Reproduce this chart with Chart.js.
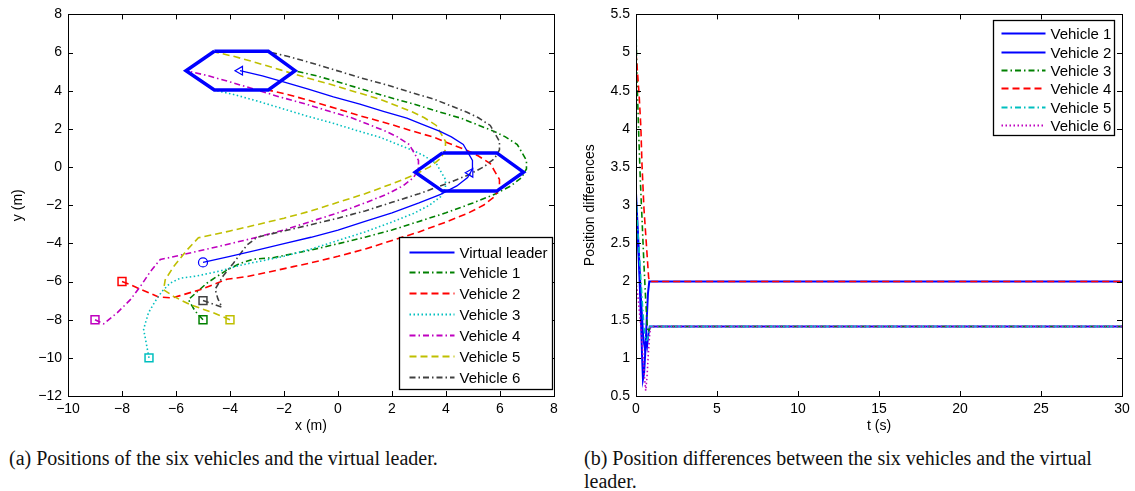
<!DOCTYPE html>
<html>
<head>
<meta charset="utf-8">
<script src="https://cdn.jsdelivr.net/npm/chart.js@4.4.0/dist/chart.umd.min.js"></script>
<style>
  body { margin: 0; background: #fff; width: 1135px; height: 491px; overflow: hidden; position: relative; }
  #wa { position: absolute; left: 0; top: 0; width: 570px; height: 440px; }
  #wb { position: absolute; left: 570px; top: 0; width: 565px; height: 440px; }
  .cap { position: absolute; font-family: "Liberation Serif", "DejaVu Serif", serif; font-size: 20px; line-height: 23px; color: #111; white-space: nowrap; }
</style>
</head>
<body>
<div id="wa"><canvas id="chartA"></canvas></div>
<div id="wb"><canvas id="chartB"></canvas></div>
<div class="cap" style="left:9px; top:447px">(a) Positions of the six vehicles and the virtual leader.</div>
<div class="cap" style="left:584px; top:447px">(b) Position differences between the six vehicles and the virtual<br>leader.</div>
<script>
// ---- (a) positions, metres ----
const xTicksA = [-10, -8, -6, -4, -2, 0, 2, 4, 6, 8];
const yTicksA = [-12, -10, -8, -6, -4, -2, 0, 2, 4, 6, 8];

const leaderX = [-5, -4, -3, -2, -1, 0, 1, 2, 3, 3.8, 4.4, 4.8, 4.98, 4.98, 4.64, 4.2, 3.78, 3.1, 2.55, 1.68, 0.81, -0.17, -1.1, -2.02, -2.8, -3.63];
const leaderY = [-5, -4.68, -4.35, -4.02, -3.68, -3.3, -2.85, -2.4, -1.88, -1.43, -0.99, -0.55, -0.1, 0.35, 1.18, 1.58, 1.87, 2.25, 2.56, 2.92, 3.3, 3.68, 4.08, 4.47, 4.78, 5.05];
const leaderMarkX = [-5, 4.9, -3.63];
const leaderMarkY = [-5, -0.3, 5.05];

const v1X = [-5, -5.29, -5.54, -4.86, -4.49, -4.12, -3.63, -3.14, -2.4, -1, 0, 1, 2, 3, 4, 5, 5.8, 6.4, 6.8, 6.98, 6.98, 6.64, 6.2, 5.78, 5.1, 4.55, 3.68, 2.81, 1.83, 0.9, -0.02, -0.8, -1.63];
const v1Y = [-8, -7.55, -6.95, -6.09, -5.74, -5.4, -5.05, -4.83, -4.75, -4.35, -4.02, -3.68, -3.3, -2.85, -2.4, -1.88, -1.43, -0.99, -0.55, -0.1, 0.35, 1.18, 1.58, 1.87, 2.25, 2.56, 2.92, 3.3, 3.68, 4.08, 4.47, 4.78, 5.05];
const v2X = [-8, -7.69, -7.32, -6.65, -6.15, -5.85, -5.11, -4.49, -4.12, -3.38, -2.65, -1.66, -1, 0, 1, 2, 3, 4, 4.8, 5.4, 5.8, 5.98, 5.98, 5.64, 5.2, 4.78, 4.1, 3.55, 2.68, 1.81, 0.83, -0.1, -1.02, -1.8, -2.63];
const v2Y = [-6, -6.17, -6.4, -6.81, -6.86, -6.74, -6.43, -6.09, -5.88, -5.74, -5.53, -5.22, -5.02, -4.68, -4.3, -3.85, -3.4, -2.88, -2.43, -1.99, -1.55, -1.1, -0.65, 0.18, 0.58, 0.87, 1.25, 1.56, 1.92, 2.3, 2.68, 3.08, 3.47, 3.78, 4.05];
const v3X = [-7, -7.08, -7.2, -7.02, -6.77, -6.52, -6.22, -5.85, -5.23, -4.37, -3.63, -2, -1, 0, 1, 2, 2.8, 3.4, 3.8, 3.98, 3.98, 3.64, 3.2, 2.78, 2.1, 1.55, 0.68, -0.19, -1.17, -2.1, -3.02, -3.8, -4.63];
const v3Y = [-10, -9.4, -8.5, -7.64, -7.03, -6.52, -6.09, -5.83, -5.71, -5.45, -5.15, -4.68, -4.3, -3.85, -3.4, -2.88, -2.43, -1.99, -1.55, -1.1, -0.65, 0.18, 0.58, 0.87, 1.25, 1.56, 1.92, 2.3, 2.68, 3.08, 3.47, 3.78, 4.05];
const v4X = [-9, -8.68, -8.18, -7.69, -7.32, -6.95, -6.58, -6.22, -5, -4, -3, -2, -1, 0, 1, 1.8, 2.4, 2.8, 2.98, 2.98, 2.64, 2.2, 1.78, 1.1, 0.55, -0.32, -1.19, -2.17, -3.1, -4.02, -4.8, -5.63];
const v4Y = [-8, -8.22, -7.64, -6.95, -6.26, -5.48, -4.84, -4.74, -4.35, -4.02, -3.68, -3.3, -2.85, -2.4, -1.88, -1.43, -0.99, -0.55, -0.1, 0.35, 1.18, 1.58, 1.87, 2.25, 2.56, 2.92, 3.3, 3.68, 4.08, 4.47, 4.78, 5.05];
const v5X = [-4, -4.62, -5.48, -6.09, -6.46, -6.4, -6.09, -5.6, -5.17, -4, -3, -2, -1, 0, 1, 2, 2.8, 3.4, 3.8, 3.98, 3.98, 3.64, 3.2, 2.78, 2.1, 1.55, 0.68, -0.19, -1.17, -2.1, -3.02, -3.8, -4.63];
const v5Y = [-8, -7.64, -7.21, -6.78, -6.43, -5.91, -5.22, -4.36, -3.71, -3.35, -3.02, -2.68, -2.3, -1.85, -1.4, -0.88, -0.43, 0.01, 0.45, 0.9, 1.35, 2.18, 2.58, 2.87, 3.25, 3.56, 3.92, 4.3, 4.68, 5.08, 5.47, 5.78, 6.05];
const v6X = [-5, -4.6, -4.3, -4.45, -4.55, -4.25, -3.88, -3.38, -3, -2, -1, 0, 1, 2, 3, 4, 4.8, 5.4, 5.8, 5.98, 5.98, 5.64, 5.2, 4.78, 4.1, 3.55, 2.68, 1.81, 0.83, -0.1, -1.02, -1.8, -2.63];
const v6Y = [-7, -7.2, -7.35, -6.9, -6.4, -5.7, -5.05, -4.1, -3.68, -3.35, -3.02, -2.68, -2.3, -1.85, -1.4, -0.88, -0.43, 0.01, 0.45, 0.9, 1.35, 2.18, 2.58, 2.87, 3.25, 3.56, 3.92, 4.3, 4.68, 5.08, 5.47, 5.78, 6.05];

// formation hexagons (mid-turn and final)
const hexTipX = [3.87, 5.88, 6.87, 5.88, 3.87, 2.86, 3.87];
const hexTipY = [0.74, 0.74, -0.27, -1.26, -1.26, -0.27, 0.74];
const hexEndX = [-4.58, -2.58, -1.59, -2.58, -4.58, -5.63, -4.58];
const hexEndY = [6.07, 6.07, 5.05, 4.04, 4.04, 5.05, 6.07];

// ---- (b) position differences ----
const xTicksB = [0, 5, 10, 15, 20, 25, 30];
const yTicksB = [0.5, 1, 1.5, 2, 2.5, 3, 3.5, 4, 4.5, 5, 5.5];

const d1T = [0, 0.1, 0.2, 0.3, 0.37, 0.43, 0.5, 0.58, 0.66, 0.74, 0.82, 30];
const d1V = [3.0, 2.6, 2.15, 1.55, 1.05, 0.72, 0.8, 1.1, 1.5, 1.85, 2.0, 2.0];
const d2T = [0, 0.15, 0.3, 0.45, 0.55, 0.62, 0.68, 0.76, 0.85, 30];
const d2V = [3.16, 2.5, 1.8, 1.25, 1.12, 1.22, 1.15, 1.3, 1.41, 1.41];
const d3T = [0, 0.02, 0.08, 0.17, 0.27, 0.37, 0.49, 0.6, 0.7, 0.78, 0.88, 30];
const d3V = [5.39, 5.1, 4.53, 3.92, 3.31, 2.83, 2.23, 1.75, 1.4, 1.33, 1.41, 1.41];
const d4T = [0, 0.1, 0.2, 0.3, 0.37, 0.49, 0.64, 0.78, 0.85, 30];
const d4V = [5.0, 4.72, 4.42, 4.02, 3.53, 2.96, 2.49, 2.05, 2.0, 2.0];
const d5T = [0, 0.12, 0.25, 0.38, 0.5, 0.6, 0.7, 0.78, 0.86, 30];
const d5V = [3.16, 2.65, 2.2, 1.75, 1.38, 1.22, 1.24, 1.3, 1.41, 1.41];
const d6T = [0, 0.15, 0.3, 0.42, 0.52, 0.6, 0.68, 0.76, 0.84, 0.9, 30];
const d6V = [2.0, 1.75, 1.4, 1.05, 0.75, 0.57, 0.75, 1.05, 1.3, 1.41, 1.41];

const vehicleNames = ['Vehicle 1', 'Vehicle 2', 'Vehicle 3', 'Vehicle 4', 'Vehicle 5', 'Vehicle 6'];
const posColors = ['#008000', '#ff0000', '#00bfbf', '#bf00bf', '#bfbf00', '#404040'];
const posDash = ['dashdot', 'dashed', 'dotted', 'dashdot', 'dashed', 'dashdot'];
const diffColors = ['#0000ff', '#0000ff', '#008000', '#ff0000', '#00bfbf', '#bf00bf'];
const diffDash = ['solid', 'solid', 'dashdot', 'dashed', 'dashdot', 'dotted'];

const DASH = { solid: [], dashdot: [6, 3, 1.5, 3], dashed: [7, 4], dotted: [1.5, 2.5] };
const FONT = '"Liberation Sans", Arial, sans-serif';
const pts = (xs, ys) => xs.map((x, i) => ({ x, y: ys[i] }));
const minus = v => (v < 0 ? '\u2212' + Math.abs(v) : String(v));

// matlab style box with inward ticks on all four sides
const frame = {
  id: 'frame',
  afterDatasetsDraw(chart) {
    const { ctx, chartArea: a, scales: { x, y } } = chart;
    ctx.save();
    ctx.strokeStyle = '#000';
    ctx.lineWidth = 1;
    ctx.setLineDash([]);
    ctx.beginPath();
    x.ticks.forEach(t => {
      const px = Math.round(x.getPixelForValue(t.value)) + 0.5;
      ctx.moveTo(px, a.bottom); ctx.lineTo(px, a.bottom - 5);
      ctx.moveTo(px, a.top); ctx.lineTo(px, a.top + 5);
    });
    y.ticks.forEach(t => {
      const py = Math.round(y.getPixelForValue(t.value)) + 0.5;
      ctx.moveTo(a.left, py); ctx.lineTo(a.left + 5, py);
      ctx.moveTo(a.right, py); ctx.lineTo(a.right - 5, py);
    });
    ctx.stroke();
    ctx.strokeRect(Math.round(a.left) + 0.5, Math.round(a.top) + 0.5, Math.round(a.width), Math.round(a.height));
    ctx.restore();
  }
};

// legend box drawn inside the plot area
const boxLegend = {
  id: 'boxLegend',
  afterDraw(chart, args, o) {
    if (!o.items) return;
    const { ctx, chartArea: a } = chart;
    const x0 = Math.round(a.right - o.right - o.width) + 0.5;
    const y0 = Math.round(o.top != null ? a.top + o.top : a.bottom - o.bottom - o.height) + 0.5;
    ctx.save();
    ctx.fillStyle = '#fff';
    ctx.fillRect(x0, y0, o.width, o.height);
    ctx.strokeStyle = '#000';
    ctx.lineWidth = 1.3;
    ctx.strokeRect(x0, y0, o.width, o.height);
    ctx.font = '15px ' + FONT;
    ctx.textBaseline = 'middle';
    o.items.forEach((it, i) => {
      const cy = Math.round(y0 + o.first + i * o.step) + 0.5;
      ctx.beginPath();
      ctx.setLineDash(DASH[it.dash]);
      ctx.strokeStyle = it.color;
      ctx.lineWidth = 2;
      ctx.moveTo(x0 + o.pad, cy);
      ctx.lineTo(x0 + o.pad + o.sample, cy);
      ctx.stroke();
      ctx.setLineDash([]);
      ctx.fillStyle = '#000';
      ctx.fillText(it.label, x0 + o.pad + o.sample + o.gap, cy + 1);
    });
    ctx.restore();
  }
};

function axis(ticksArr, min, max, title, titlePad, horizontal, size) {
  return {
    type: 'linear', min, max,
    position: horizontal ? 'bottom' : 'left',
    grid: { display: false, drawTicks: false },
    border: { display: false },
    afterBuildTicks: s => { s.ticks = ticksArr.map(v => ({ value: v })); },
    afterFit: s => { if (horizontal) s.height = size; else s.width = size; },
    ticks: {
      autoSkip: false, maxRotation: 0, color: '#000', padding: horizontal ? 5 : 6,
      font: { family: FONT, size: 14 },
      callback: v => minus(v)
    },
    title: {
      display: true, text: title, color: '#000',
      font: { family: FONT, size: 14 },
      padding: horizontal ? { top: 0, bottom: titlePad } : { top: titlePad, bottom: 0 }
    }
  };
}

function line(label, xs, ys, color, dash, width, order, extra) {
  return Object.assign({
    label, data: pts(xs, ys), showLine: true,
    borderColor: color, borderDash: DASH[dash], borderWidth: width,
    pointRadius: 0, order
  }, extra || {});
}

// ---- chart (a) ----
const posX = [v1X, v2X, v3X, v4X, v5X, v6X];
const posY = [v1Y, v2Y, v3Y, v4Y, v5Y, v6Y];
const setsA = [
  line('hexTip', hexTipX, hexTipY, '#0000ff', 'solid', 3.5, 0),
  line('hexEnd', hexEndX, hexEndY, '#0000ff', 'solid', 3.5, 0),
  line('Virtual leader', leaderX, leaderY, '#0000ff', 'solid', 1.3, 1),
  {
    label: 'leader marks', data: pts(leaderMarkX, leaderMarkY), showLine: false, order: 1,
    pointStyle: ['circle', 'triangle', 'triangle'], rotation: [0, 270, 270],
    pointRadius: [4.5, 5, 5], pointBorderColor: '#0000ff', pointBorderWidth: 1.2,
    pointBackgroundColor: 'rgba(0,0,0,0)'
  }
];
vehicleNames.forEach((n, i) => {
  setsA.push(line(n, posX[i], posY[i], posColors[i], posDash[i], 1.6, 2 + (5 - i), {
    pointRadius: c => (c.dataIndex === 0 ? 5.6 : 0),
    pointStyle: 'rect', pointBorderColor: posColors[i], pointBorderWidth: 1.5,
    pointBackgroundColor: 'rgba(0,0,0,0)'
  }));
});

new Chart(document.getElementById('chartA'), {
  type: 'scatter',
  data: { datasets: setsA },
  options: {
    responsive: true, maintainAspectRatio: false, animation: false,
    layout: { padding: { top: 12, right: 16, left: 0, bottom: 0 } },
    scales: {
      x: axis(xTicksA, -10, 8, 'x (m)', 5, true, 44),
      y: axis(yTicksA, -12, 8, 'y (m)', 10, false, 68)
    },
    plugins: {
      legend: { display: false }, tooltip: { enabled: false },
      boxLegend: {
        right: 2, bottom: 7, width: 153, height: 152, first: 14, step: 20.9, pad: 10, sample: 45, gap: 5,
        items: [{ label: 'Virtual leader', color: '#0000ff', dash: 'solid' }].concat(
          vehicleNames.map((n, i) => ({ label: n, color: posColors[i], dash: posDash[i] })))
      }
    }
  },
  plugins: [frame, boxLegend]
});

// ---- chart (b) ----
const diffT = [d1T, d2T, d3T, d4T, d5T, d6T];
const diffV = [d1V, d2V, d3V, d4V, d5V, d6V];
const setsB = vehicleNames.map((n, i) =>
  line(n, diffT[i], diffV[i], diffColors[i], diffDash[i], i < 2 ? 2 : 1.6, 10 - i));

new Chart(document.getElementById('chartB'), {
  type: 'scatter',
  data: { datasets: setsB },
  options: {
    responsive: true, maintainAspectRatio: false, animation: false,
    layout: { padding: { top: 12, right: 13, left: 0, bottom: 0 } },
    scales: {
      x: axis(xTicksB, 0, 30, 't (s)', 5, true, 44),
      y: axis(yTicksB, 0.5, 5.5, 'Position differences', 12, false, 66)
    },
    plugins: {
      legend: { display: false }, tooltip: { enabled: false },
      boxLegend: {
        right: 8, top: 6, width: 121, height: 115, first: 12.7, step: 18.4, pad: 8, sample: 44, gap: 5,
        items: vehicleNames.map((n, i) => ({ label: n, color: diffColors[i], dash: diffDash[i] }))
      }
    }
  },
  plugins: [frame, boxLegend]
});
</script>
</body>
</html>
